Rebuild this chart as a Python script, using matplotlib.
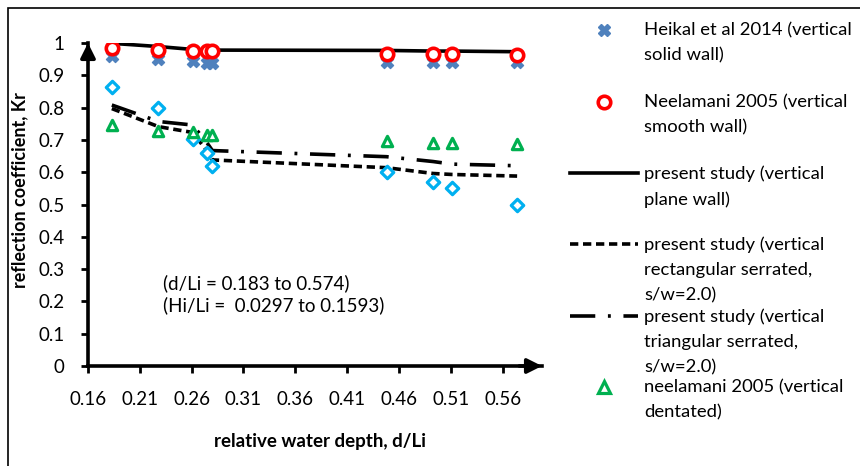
import matplotlib.pyplot as plt
from matplotlib.lines import Line2D
from matplotlib.patches import Rectangle

plt.rcParams['font.family'] = ['Lato', 'DejaVu Sans']

# relative water depth d/Li (shared x positions)
d_li = [0.183, 0.228, 0.261, 0.275, 0.280, 0.448, 0.493, 0.511, 0.574]

# measured / computed reflection coefficients
heikal_solid = [0.96, 0.95, 0.945, 0.937, 0.937, 0.94, 0.94, 0.94, 0.94]
neelamani_smooth = [0.983, 0.978, 0.975, 0.975, 0.975, 0.966, 0.966, 0.966, 0.964]
neelamani_dentated = [0.746, 0.727, 0.725, 0.715, 0.715, 0.698, 0.69, 0.69, 0.687]
unlabelled_diamonds = [0.863, 0.80, 0.703, 0.66, 0.62, 0.60, 0.57, 0.55, 0.50]
present_plane = [0.999, 0.989, 0.98, 0.978, 0.978, 0.977, 0.975, 0.975, 0.973]
present_rect = [0.797, 0.741, 0.723, 0.665, 0.638, 0.614, 0.596, 0.593, 0.588]
present_tri = [0.808, 0.757, 0.746, 0.69, 0.667, 0.648, 0.633, 0.625, 0.62]

x_ticks = [0.16, 0.21, 0.26, 0.31, 0.36, 0.41, 0.46, 0.51, 0.56]
y_ticks = [0, 0.1, 0.2, 0.3, 0.4, 0.5, 0.6, 0.7, 0.8, 0.9, 1]
y_tick_labels = ['0', '0.1', '0.2', '0.3', '0.4', '0.5', '0.6', '0.7', '0.8', '0.9', '1']

legend_labels = ['Heikal et al 2014 (vertical\nsolid wall)',
                 'Neelamani 2005 (vertical\nsmooth wall)',
                 'present study (vertical\nplane wall)',
                 'present study (vertical\nrectangular serrated,\ns/w=2.0)',
                 'present study (vertical\ntriangular serrated,\ns/w=2.0)',
                 'neelamani 2005 (vertical\ndentated)']

fig = plt.figure(figsize=(8.6, 4.66), dpi=100)
ax = fig.add_axes([88 / 860, 100 / 466, (542 - 88) / 860, (366 - 43) / 466])

blue_x = '#4f81bd'
red = '#ff0000'
green = '#00b050'
cyan = '#00b0f0'

dash_rect = (0, (2.3, 1.3))
dash_tri = (0, (7, 3.5, 0.8, 3.5))

ax.plot(d_li, present_plane, color='black', lw=2.6, zorder=2)
ax.plot(d_li, present_rect, color='black', lw=2.6, linestyle=dash_rect, zorder=2)
ax.plot(d_li, present_tri, color='black', lw=2.6, linestyle=dash_tri, zorder=2)

ax.scatter(d_li, unlabelled_diamonds, marker='D', s=40, facecolor='white',
           edgecolor=cyan, linewidths=2.3, zorder=3)
ax.scatter(d_li, neelamani_dentated, marker='^', s=55, facecolor='white',
           edgecolor=green, linewidths=2.3, zorder=3)
ax.scatter(d_li, heikal_solid, marker='X', s=75, color=blue_x, zorder=3)
ax.scatter(d_li, neelamani_smooth, marker='o', s=80, facecolor='white',
           edgecolor=red, linewidths=2.6, zorder=4)

ax.set_xlim(0.16, 0.598)
ax.set_ylim(0, 1)
ax.set_xticks(x_ticks)
ax.set_xticklabels([f'{v:.2f}' for v in x_ticks])
ax.set_yticks(y_ticks)
ax.set_yticklabels(y_tick_labels)
ax.tick_params(axis='both', labelsize=13.5, width=2, length=5, pad=12, color='black')
ax.tick_params(axis='x', pad=13)

for s in ['top', 'right']:
    ax.spines[s].set_visible(False)
for s in ['left', 'bottom']:
    ax.spines[s].set_linewidth(2.6)

# arrow heads on the axes
ax.annotate('', xy=(0, 1.0), xytext=(0, 0.95), xycoords='axes fraction',
            arrowprops=dict(arrowstyle='-|>', color='black', lw=2.6,
                            mutation_scale=22, shrinkA=0, shrinkB=0))
ax.annotate('', xy=(1.0, 0), xytext=(0.95, 0), xycoords='axes fraction',
            arrowprops=dict(arrowstyle='-|>', color='black', lw=2.6,
                            mutation_scale=22, shrinkA=0, shrinkB=0))

ax.set_ylabel('reflection coefficient, Kr', fontsize=13, fontweight='bold')
ax.yaxis.set_label_coords(-60 / 454, (366 - 190) / 323)
fig.text(320 / 860, 1 - 442 / 466, 'relative water depth, d/Li', fontsize=13.5,
         fontweight='bold', ha='center', va='center')

fig.text(163 / 860, 1 - 283 / 466, '(d/Li = 0.183 to 0.574)', fontsize=13.5,
         va='center')
fig.text(163 / 860, 1 - 305 / 466, '(Hi/Li =  0.0297 to 0.1593)', fontsize=13.5,
         va='center')

# manual legend, Excel style (handle aligned to first text line)
entry_y = [30, 102, 173, 244, 316, 387]
handles = [
    dict(marker='X', color=blue_x, ms=9, ls='none'),
    dict(marker='o', mfc='white', mec=red, mew=2.6, ms=9, ls='none'),
    dict(ls='-', color='black', lw=2.6),
    dict(ls=dash_rect, color='black', lw=2.6),
    dict(ls=dash_tri, color='black', lw=2.6),
    dict(marker='^', mfc='white', mec=green, mew=2.3, ms=8, ls='none'),
]
for y, h, lab in zip(entry_y, handles, legend_labels):
    fy = 1 - y / 466
    if h.get('ls') == 'none':
        fig.add_artist(Line2D([604 / 860], [fy], transform=fig.transFigure, **h))
    else:
        fig.add_artist(Line2D([570 / 860, 638 / 860], [fy, fy],
                              transform=fig.transFigure, **h))
    fig.text(644 / 860, fy + 8 / 466, lab, fontsize=13.3, va='top', ha='left',
             linespacing=1.7)

# outer chart border
fig.add_artist(Rectangle((8 / 860, -0.1), 1.2, 1 - 8 / 466 + 0.1,
                         transform=fig.transFigure, fill=False,
                         edgecolor='black', lw=1.2))

fig.savefig('out.png', dpi=100)
